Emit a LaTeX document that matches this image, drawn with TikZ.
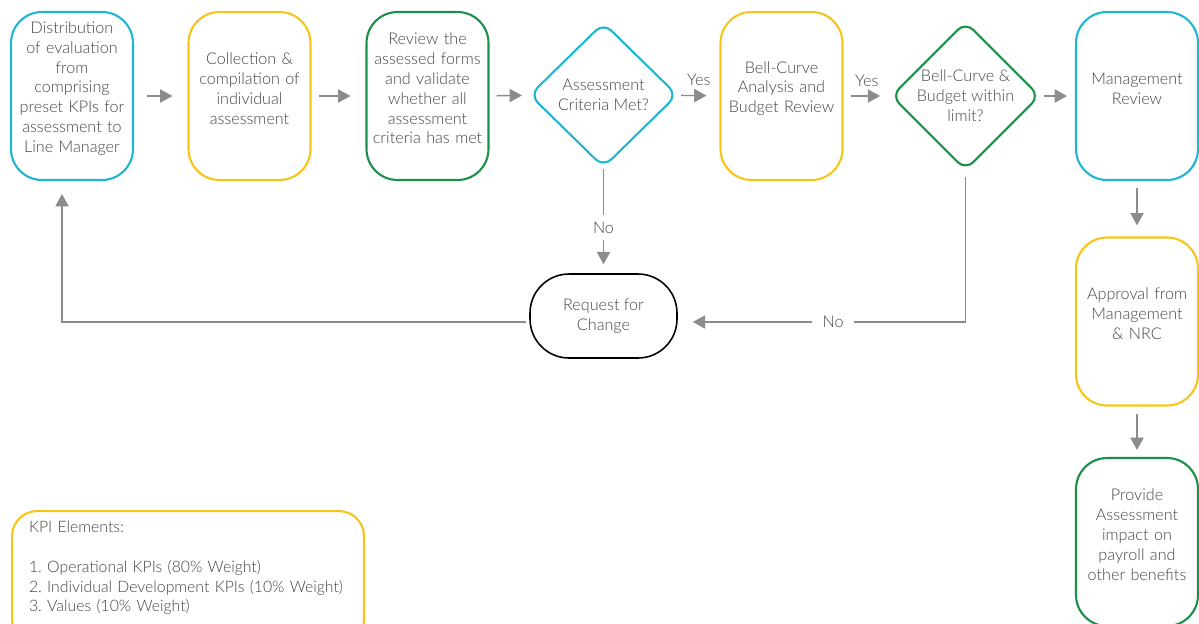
\documentclass[tikz,border=0pt]{standalone}
\usepackage{fontspec}
\setmainfont{Lato Light}
\usetikzlibrary{shapes.geometric, arrows.meta}

\definecolor{flowcyan}{HTML}{1FB6D2}
\definecolor{flowyellow}{HTML}{F7C418}
\definecolor{flowgreen}{HTML}{1A9148}
\definecolor{flowgray}{HTML}{8C8C8E}
\definecolor{flowtext}{HTML}{444444}

\begin{document}
\frenchspacing
\begin{tikzpicture}[x = 0.02cm, y = -0.02cm]
        \tikzset{stage/.style={
            draw,
            line width = 1.2pt,
            #1,
            %
            rounded corners = 0.62cm,
            minimum width = 2.44cm,
            minimum height = 3.36cm,
            text width = 2.4cm,
            inner sep = 0pt,
            align = center,
            text = flowtext,
            font = \fontsize{9.2}{11.3}\selectfont,
            execute at end node = {\par\kern 0.3cm}
        }}
        \tikzset{decision/.style={
            draw,
            line width = 1.2pt,
            #1,
            %
            diamond,
            aspect = 1,
            rounded corners = 0.22cm,
            minimum width = 2.96cm,
            minimum height = 2.9cm,
            inner sep = 0pt,
            align = center,
            text = flowtext,
            font = \fontsize{9.2}{11.3}\selectfont
        }}
        \tikzset{request/.style={
            draw,
            line width = 0.9pt,
            black,
            rounded corners = 0.78cm,
            minimum width = 2.94cm,
            minimum height = 1.68cm,
            align = center,
            text = flowtext,
            font = \fontsize{9.2}{11.3}\selectfont
        }}
        \tikzset{legend/.style={
            draw,
            line width = 1.2pt,
            flowyellow,
            anchor = north west,
            rounded corners = 0.5cm,
            minimum width = 7.04cm,
            text width = 6.36cm,
            inner xsep = 0.34cm,
            inner ysep = 0.2cm,
            align = left,
            text = flowtext,
            font = \fontsize{9}{11.3}\selectfont,
            execute at end node = {\par\kern 0.4cm}
        }}
        \tikzset{flow/.style={
            line width = 0.8pt,
            flowgray,
            -{Triangle[length = 7pt, width = 7.5pt]}
        }}
        \tikzset{answer/.style={
            fill = white,
            inner xsep = 6pt,
            inner ysep = 4pt,
            text = flowtext,
            font = \fontsize{9.2}{11.3}\selectfont
        }}
        \useasboundingbox (0, 0) rectangle (1199, 623);

        % top row
        \node[stage = flowcyan] (distribute) at (72, 96) {Distribution\\of evaluation\\from\\comprising\\preset KPIs for\\assessment to\\Line Manager};
        \node[stage = flowyellow] (collect) at (249.5, 96) {Collection \&\\compilation of\\individual\\assessment};
        \node[stage = flowgreen] (validate) at (427.5, 96) {Review the\\assessed forms\\and validate\\whether all\\assessment\\criteria has met};
        \node[decision = flowcyan] (criteria) at (603.5, 95) {Assessment\\Criteria Met?};
        \node[stage = flowyellow] (bellcurve) at (781.5, 96) {Bell-Curve\\Analysis and\\Budget Review};
        \node[decision = flowgreen] (budget) at (965.5, 96) {Bell-Curve \&\\Budget within\\limit?};
        \node[stage = flowcyan] (mgmt) at (1137, 96) {Management\\Review};

        % right column
        \node[stage = flowyellow] (approval) at (1137, 321.5) {Approval from\\Management\\\& NRC};
        \node[stage = flowgreen] (payroll) at (1137, 542) {Provide\\Assessment\\impact on\\payroll and\\other benefits};

        \node[request] (change) at (603.5, 316) {Request for\\Change};

        \node[legend] (kpi) at (11, 510) {KPI Elements:\\[11.3pt]1. Operational KPIs (80\% Weight)\\2. Individual Development KPIs (10\% Weight)\\3. Values (10\% Weight)};

        \coordinate (budgetturn) at (965.5, 322);
        \coordinate (returnturn) at (62, 322);

        \draw[flow, shorten <= 0.26cm, shorten >= 0.3cm] (distribute) -- (collect);
        \draw[flow, shorten <= 0.14cm, shorten >= 0.3cm] (collect) -- (validate);
        \draw[flow, shorten <= 0.14cm, shorten >= 0.14cm] (validate) -- (criteria);
        \draw[flow, shorten <= 0.06cm, shorten >= 0.26cm] (criteria) -- node[answer, above = 1pt, fill = none] {Yes} (bellcurve);
        \draw[flow, shorten <= 0.14cm, shorten >= 0.2cm] (bellcurve) -- node[answer, above = 1pt, fill = none] {Yes} (budget);
        \draw[flow, shorten <= 0.06cm, shorten >= 0.16cm] (budget) -- (mgmt);
        \draw[flow, shorten >= 0.18cm] (criteria) -- node[answer, pos = 0.565] {No} (change);
        \draw[flow, shorten <= 0.12cm, shorten >= 0.3cm] (budget.south) -- (budgetturn) -- node[answer, pos = 0.46] {No} (change.east |- budgetturn);
        \draw[flow, shorten <= 0.06cm, shorten >= 0.26cm] (change.west |- returnturn) -- (returnturn) -- (returnturn |- distribute.south);
        \draw[flow, shorten <= 0.14cm, shorten >= 0.22cm] (mgmt) -- (approval);
        \draw[flow, shorten <= 0.14cm, shorten >= 0.14cm] (approval) -- (payroll);
\end{tikzpicture}
\end{document}
